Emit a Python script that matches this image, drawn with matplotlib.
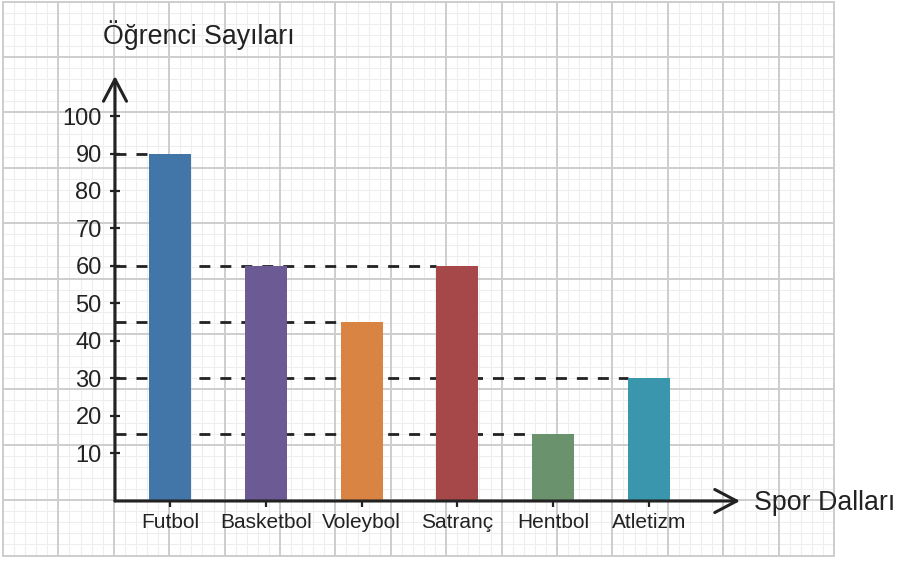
import matplotlib.pyplot as plt
import numpy as np

plt.rcParams['font.family'] = ['Liberation Sans', 'DejaVu Sans']
plt.rcParams['lines.scale_dashes'] = False

sports = ['Futbol', 'Basketbol', 'Voleybol', 'Satranç', 'Hentbol', 'Atletizm']
students = [90, 60, 45, 60, 15, 30]
colors = ['#4275a8', '#6c5a94', '#d98443', '#a6474a', '#6a926c', '#3a96ac']
y_ticks = [10, 20, 30, 40, 50, 60, 70, 80, 90, 100]

ink = '#222222'
W, H = 898, 562
fig = plt.figure(figsize=(W / 100, H / 100), dpi=100)

# graph paper background (pixel coordinates)
bg = fig.add_axes([0, 0, 1, 1])
bg.set_xlim(0, W)
bg.set_ylim(H, 0)
bg.axis('off')
step = 55.4 / 5
gx = 3 + step * np.arange(76)
gy = 1.5 + step * np.arange(51)
for k, x in enumerate(gx):
    major = k % 5 == 0
    bg.plot([x, x], [gy[0], gy[-1]], color='#cdcdcd' if major else '#eeeeee',
            lw=1.4 if major else 0.8, zorder=2 if major else 1)
for k, y in enumerate(gy):
    major = k % 5 == 0
    bg.plot([gx[0], gx[-1]], [y, y], color='#cdcdcd' if major else '#eeeeee',
            lw=1.4 if major else 0.8, zorder=2 if major else 1)

# main chart
ax = fig.add_axes([115 / W, (H - 501) / H, 625 / W, 425 / H])
ax.patch.set_visible(False)
x_lo, x_hi = -0.574, 5.95
y_lo, y_hi = -2.8, 110.7
ax.set_xlim(x_lo, x_hi)
ax.set_ylim(y_lo, y_hi)
for s in ax.spines.values():
    s.set_visible(False)

x = np.arange(len(sports))
bw = 0.438
vals = np.array(students)
ax.bar(x, vals - y_lo, bottom=y_lo, width=bw, color=colors, zorder=3)

# dashed reference lines from the axis to the bar
for v in sorted(set(students)):
    idx = max(i for i, s in enumerate(students) if s == v)
    ax.plot([x_lo, idx - bw / 2], [v, v], color=ink, lw=2.0,
            dashes=(7.9, 7.2), zorder=2, clip_on=False)

ax.set_yticks(y_ticks)
ax.set_xticks(x, sports)
ax.tick_params(axis='y', direction='inout', length=7.2, width=1.6, pad=6,
               labelsize=17, colors=ink)
ax.tick_params(axis='x', direction='out', length=4.5, width=1.6, pad=4,
               labelsize=15, colors=ink)

arrow = dict(arrowstyle='->,head_length=15.8,head_width=8.3', mutation_scale=1,
             lw=2.2, color=ink, shrinkA=0, shrinkB=0)
ax.annotate('', xy=(0, 1), xytext=(0, 0), xycoords='axes fraction', arrowprops=arrow)
ax.annotate('', xy=(1, 0), xytext=(0, 0), xycoords='axes fraction', arrowprops=arrow)

fig.text(103 / W, 1 - 44 / H, 'Öğrenci Sayıları', fontsize=19.3, color=ink,
         ha='left', va='baseline')
fig.text(754 / W, 1 - 510 / H, 'Spor Dalları', fontsize=19.3, color=ink,
         ha='left', va='baseline')

fig.savefig('out.png', dpi=100)
